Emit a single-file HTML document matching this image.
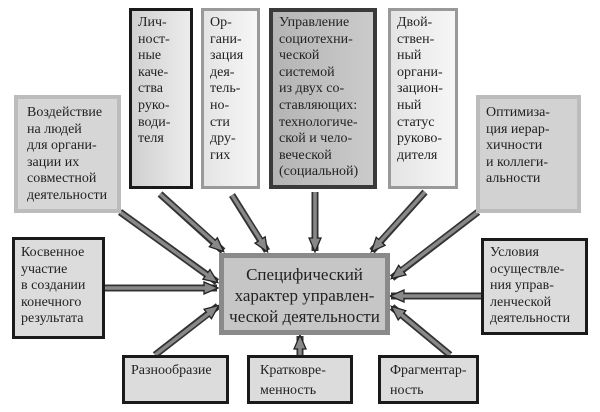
<!DOCTYPE html>
<html><head><meta charset="utf-8"><style>
body{margin:0;background:#fff;}
.b{position:absolute;box-sizing:border-box;font-family:"Liberation Serif","Noto Serif CJK SC",serif;font-size:14px;line-height:16.6px;color:#222;padding:5px 6px;white-space:nowrap;}
</style></head><body>
<div style="position:relative;width:600px;height:412px;overflow:hidden;">
<svg width="600" height="412" style="position:absolute;left:0;top:0">
<defs>
<marker id="a" markerUnits="userSpaceOnUse" markerWidth="18" markerHeight="16" refX="14" refY="8" orient="auto">
<path d="M1,2 L15,8 L1,14 Z" fill="#888" stroke="#222" stroke-width="1.3"/>
</marker>
</defs>
<g stroke-linecap="butt">
<g stroke="#333" stroke-width="7" marker-end="url(#a)">
<line x1="120" y1="212" x2="217" y2="282"/>
<line x1="160" y1="194" x2="223" y2="251"/>
<line x1="232" y1="195" x2="267" y2="251"/>
<line x1="315" y1="192" x2="315" y2="251"/>
<line x1="425" y1="192" x2="372" y2="251"/>
<line x1="478" y1="212" x2="392" y2="278"/>
<line x1="104" y1="288" x2="217" y2="288"/>
<line x1="481" y1="296" x2="391" y2="296"/>
<line x1="155" y1="355" x2="218" y2="306"/>
<line x1="300" y1="355" x2="300" y2="336"/>
<line x1="450" y1="355" x2="392" y2="307"/>
</g>
<g stroke="#888" stroke-width="3.5">
<line x1="120" y1="212" x2="210" y2="277"/>
<line x1="160" y1="194" x2="217" y2="245"/>
<line x1="232" y1="195" x2="263" y2="244"/>
<line x1="315" y1="192" x2="315" y2="244"/>
<line x1="425" y1="192" x2="377" y2="245"/>
<line x1="478" y1="212" x2="398" y2="273"/>
<line x1="104" y1="288" x2="210" y2="288"/>
<line x1="481" y1="296" x2="398" y2="296"/>
<line x1="155" y1="355" x2="212" y2="311"/>
<line x1="300" y1="355" x2="300" y2="343"/>
<line x1="450" y1="355" x2="398" y2="312"/>
</g>
</g>
</svg>
<div class="b" style="left:14px;top:95px;width:107px;height:118px;border:4px solid #bcbcbc;background:#d6d6d6;padding-top:6px;padding-left:9px">Воздействие<br>на людей<br>для органи-<br>зации их<br>совместной<br>деятельности</div>
<div class="b" style="left:129px;top:8px;width:64px;height:181px;border:3px solid #1a1a1a;background:linear-gradient(90deg,#d0d0d0,#ececec);padding-top:4px">Лич-<br>ност-<br>ные<br>каче-<br>ства<br>руко-<br>води-<br>теля</div>
<div class="b" style="left:201px;top:8px;width:59px;height:181px;border:3px solid #999;background:linear-gradient(90deg,#e4e4e4,#f6f6f6);padding-top:4px">Ор-<br>гани-<br>зация<br>дея-<br>тель-<br>но-<br>сти<br>дру-<br>гих</div>
<div class="b" style="left:269px;top:8px;width:108px;height:181px;border:4px solid #3a3a3a;background:linear-gradient(90deg,#b4b4b4,#cbcbcb);padding-top:3px;padding-left:6px">Управление<br>социотехни-<br>ческой<br>системой<br>из двух со-<br>ставляющих:<br>технологиче-<br>ской и чело-<br>веческой<br>(социальной)</div>
<div class="b" style="left:388px;top:8px;width:70px;height:181px;border:3px solid #999;background:linear-gradient(90deg,#e4e4e4,#f6f6f6);padding-top:4px">Двой-<br>ствен-<br>ный<br>органи-<br>зацион-<br>ный<br>статус<br>руково-<br>дителя</div>
<div class="b" style="left:476px;top:95px;width:105px;height:118px;border:4px solid #bcbcbc;background:#d2d2d2;padding-top:6px">Оптимиза-<br>ция иерар-<br>хичности<br>и коллеги-<br>альности</div>
<div class="b" style="left:12px;top:237px;width:93px;height:102px;border:3px solid #1a1a1a;background:#dcdcdc;padding-top:5px">Косвенное<br>участие<br>в создании<br>конечного<br>результата</div>
<div class="b" style="left:219px;top:253px;width:171px;height:82px;border:5px solid #8a8a8a;background:#c6c6c6;font-size:17px;line-height:21px;text-align:center;padding:6px 0">Специфический<br>характер управлен-<br>ческой деятельности</div>
<div class="b" style="left:481px;top:238px;width:107px;height:97px;border:3px solid #1a1a1a;background:#dcdcdc;padding-top:4px">Условия<br>осуществле-<br>ния управ-<br>ленческой<br>деятельности</div>
<div class="b" style="left:122px;top:355px;width:107px;height:49px;border:3px solid #1a1a1a;background:#dcdcdc;padding-top:5px">Разнообразие</div>
<div class="b" style="left:247px;top:355px;width:106px;height:49px;border:3px solid #1a1a1a;background:#dcdcdc;padding-top:3px;padding-left:10px;line-height:20px">Кратковре-<br>менность</div>
<div class="b" style="left:378px;top:355px;width:101px;height:49px;border:3px solid #1a1a1a;background:#dcdcdc;padding-top:3px;padding-left:9px;line-height:20px">Фрагментар-<br>ность</div>
</div>
</body></html>
